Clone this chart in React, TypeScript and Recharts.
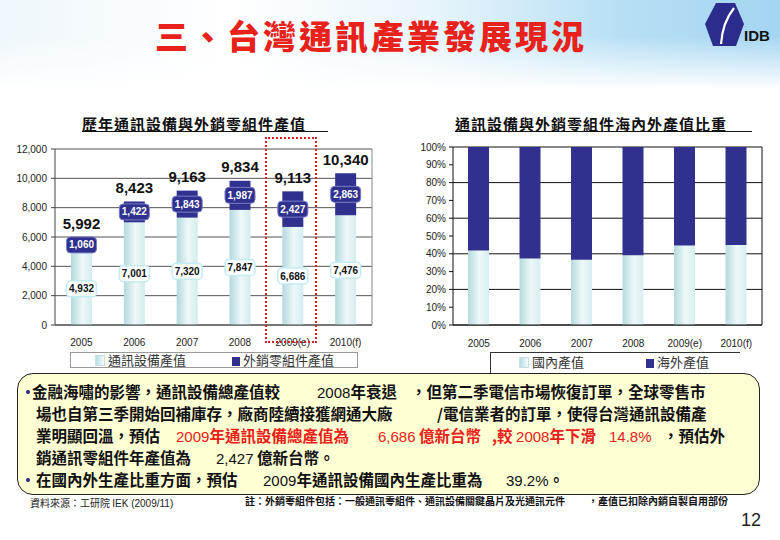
import { BarChart, Bar, XAxis, YAxis, CartesianGrid, LabelList } from 'recharts';

const years = ['2005', '2006', '2007', '2008', '2009(e)', '2010(f)'];
// 億新台幣
const equipment = [4932, 7001, 7320, 7847, 6686, 7476];
const components = [1060, 1422, 1843, 1987, 2427, 2863];
const totals = [5992, 8423, 9163, 9834, 9113, 10340];
const valueTicks = [0, 2000, 4000, 6000, 8000, 10000, 12000];

// %
const domesticShare = [41.8, 37.3, 36.6, 39.2, 44.7, 45.0];
const overseasShare = [58.2, 62.7, 63.4, 60.8, 55.3, 55.0];
const shareTicks = [0, 10, 20, 30, 40, 50, 60, 70, 80, 90, 100];

const CJK = '"Noto Sans CJK TC", "Noto Sans CJK SC", sans-serif';
const LATIN = '"Liberation Sans", Arial, sans-serif';
const NAVY = '#30318f';
const RED = '#e8221a';

const fmt = (v: number) => v.toLocaleString('en-US');

function box(props: any) {
  const vb = props.viewBox ?? props;
  const x = Number(vb.x);
  const h = Number(vb.height);
  const y = Math.min(Number(vb.y), Number(vb.y) + h);
  return { cx: x + Number(vb.width) / 2, top: y, cy: y + Math.abs(h) / 2 };
}

function EquipLabel(props: any) {
  const { cx, cy } = box(props);
  return (
    <g>
      <rect x={cx - 15} y={cy - 8} width={30} height={16} rx={4} fill="#fcffff" stroke="#c4ecf3" strokeWidth={1.5} />
      <text x={cx} y={cy} dy="0.36em" textAnchor="middle" fontSize={10} fontWeight={700} fill="#111" fontFamily={LATIN}>
        {fmt(props.value)}
      </text>
    </g>
  );
}

function CompLabel(props: any) {
  const { cx, cy } = box(props);
  return (
    <g>
      <rect x={cx - 15} y={cy - 8} width={30} height={16} rx={4} fill={NAVY} stroke="#7a7cc4" strokeWidth={1} />
      <text x={cx} y={cy} dy="0.36em" textAnchor="middle" fontSize={10} fontWeight={700} fill="#fff" fontFamily={LATIN}>
        {fmt(props.value)}
      </text>
    </g>
  );
}

function TotalLabel(props: any) {
  const { cx, top } = box(props);
  return (
    <text x={cx} y={top - 14} dy="0.36em" textAnchor="middle" fontSize={15} fontWeight={700} fill="#111" fontFamily={LATIN}>
      {fmt(props.value)}
    </text>
  );
}

const axisTick = { fill: '#222', fontSize: 10, fontFamily: LATIN };

function Seg({ x, y, red, children }: { x: number; y: number; red?: boolean; children: string }) {
  const parts = children.split(/([0-9][0-9.,%]*)/);
  return (
    <div
      style={{
        position: 'absolute', left: x, top: y - 10, height: 20, lineHeight: '20px', whiteSpace: 'nowrap',
        fontSize: 15.5, fontWeight: 700, fontFamily: CJK, color: red ? RED : '#111',
      }}
    >
      {parts.map((p, i) =>
        i % 2 === 1 ? (
          <span key={i} style={{ fontFamily: LATIN, fontWeight: 400, fontSize: 15 }}>{p}</span>
        ) : (
          <span key={i}>{p}</span>
        ),
      )}
    </div>
  );
}

function Bullet({ y }: { y: number }) {
  return <div style={{ position: 'absolute', left: 26, top: y - 1, width: 4, height: 4, borderRadius: 2, background: '#2a2a8a' }} />;
}

function Swatch({ dark }: { dark?: boolean }) {
  return (
    <span
      style={{
        display: 'inline-block', width: 8, height: 9, marginRight: 3, verticalAlign: -1,
        background: dark ? NAVY : 'linear-gradient(to right, #b9dde2, #f4fbfc)',
        border: dark ? 'none' : '1px solid #c9dfe3',
      }}
    />
  );
}

export default function App() {
  const valueData = years.map((year, i) => ({
    year, equipment: equipment[i], components: components[i], total: totals[i],
  }));
  const shareData = years.map((year, i) => ({
    year, domestic: domesticShare[i], overseas: overseasShare[i],
  }));

  return (
    <div style={{ position: 'absolute', left: 0, top: 0, width: 780, height: 540, overflow: 'hidden', background: '#fff', fontFamily: CJK }}>
      {/* header band */}
      <div
        style={{
          position: 'absolute', left: 0, top: 0, width: 780, height: 90,
          background:
            'linear-gradient(to bottom, rgba(255,255,255,0) 40%, #fff 100%), linear-gradient(to right, #eef7fc 0%, #fff 30%, #e8f5fb 55%, #b6dff4 80%, #a4d5f1 100%)',
        }}
      />
      <div
        style={{
          position: 'absolute', left: 155, top: 16, fontSize: 33, letterSpacing: 3, lineHeight: '38px',
          fontWeight: 900, color: RED, whiteSpace: 'nowrap',
        }}
      >
        三、台灣通訊產業發展現況
      </div>
      <svg style={{ position: 'absolute', left: 700, top: 0 }} width={80} height={50}>
        <polygon points="16,3 35,3 44,24 36,46 13,46 5,24" fill="#2c2c8c" />
        <path d="M34,8 C26,18 22,30 21,44" stroke="#fff" strokeWidth={2.2} fill="none" />
        <text x={44} y={41} fontSize={15} fontWeight={700} fontFamily={LATIN} fill="#111">IDB</text>
      </svg>

      {/* left chart */}
      <div style={{ position: 'absolute', left: 82, top: 114, fontSize: 15, letterSpacing: 1, fontWeight: 700, lineHeight: '20px', color: '#111' }}>
        歷年通訊設備與外銷零組件產值
      </div>
      <div style={{ position: 'absolute', left: 82, top: 131, width: 246, height: 1, background: '#111' }} />
      <div style={{ position: 'absolute', left: 0, top: 139 }}>
        <BarChart width={390} height={216} data={valueData} margin={{ top: 10, right: 17, bottom: 0, left: 0 }} barSize={21}>
          <defs>
            <linearGradient id="eqFill" x1="0" y1="0" x2="1" y2="0">
              <stop offset="0%" stopColor="#b3d9de" />
              <stop offset="55%" stopColor="#eef8f9" />
              <stop offset="100%" stopColor="#d3ecef" />
            </linearGradient>
          </defs>
          <CartesianGrid vertical={false} stroke="#555" yAxisId="v" />
          <XAxis dataKey="year" tick={axisTick} tickLine={false} axisLine={{ stroke: '#444' }} tickMargin={8} height={30} />
          <YAxis
            yAxisId="v" domain={[0, 12000]} ticks={valueTicks} tickFormatter={fmt} width={55}
            tick={axisTick} tickSize={4} tickMargin={4} axisLine={{ stroke: '#444' }} tickLine={{ stroke: '#444' }}
          />
          <YAxis yAxisId="edge" orientation="right" width={1} tick={false} tickLine={false} axisLine={{ stroke: '#888' }} />
          <Bar yAxisId="v" dataKey="equipment" stackId="a" fill="url(#eqFill)" isAnimationActive={false}>
            <LabelList dataKey="equipment" content={EquipLabel} />
          </Bar>
          <Bar yAxisId="v" dataKey="components" stackId="a" fill={NAVY} isAnimationActive={false}>
            <LabelList dataKey="components" content={CompLabel} />
            <LabelList dataKey="total" content={TotalLabel} />
          </Bar>
        </BarChart>
      </div>
      <div style={{ position: 'absolute', left: 265, top: 137, width: 52, height: 206, border: '2px dotted #d0202a', boxSizing: 'border-box' }} />
      <div
        style={{
          position: 'absolute', left: 70, top: 352, width: 288, height: 16, border: '1px solid #999', boxSizing: 'border-box',
          fontSize: 13, lineHeight: '14px', color: '#333', background: '#fff', whiteSpace: 'nowrap',
        }}
      >
        <span style={{ position: 'absolute', left: 24, top: 0 }}><Swatch />通訊設備產值</span>
        <span style={{ position: 'absolute', left: 161, top: 0 }}><Swatch dark />外銷零組件產值</span>
      </div>

      {/* right chart */}
      <div style={{ position: 'absolute', left: 455, top: 114, fontSize: 15, letterSpacing: 1, fontWeight: 700, lineHeight: '20px', color: '#111', whiteSpace: 'nowrap' }}>
        通訊設備與外銷零組件海內外產值比重
      </div>
      <div style={{ position: 'absolute', left: 455, top: 131, width: 297, height: 1, background: '#111' }} />
      <div style={{ position: 'absolute', left: 400, top: 137 }}>
        <BarChart width={380} height={218} data={shareData} margin={{ top: 10, right: 17, bottom: 0, left: 0 }} barSize={21}>
          <defs>
            <linearGradient id="domFill" x1="0" y1="0" x2="1" y2="0">
              <stop offset="0%" stopColor="#b6dade" />
              <stop offset="55%" stopColor="#eef8f9" />
              <stop offset="100%" stopColor="#d6eef1" />
            </linearGradient>
          </defs>
          <CartesianGrid vertical={false} stroke="#111" yAxisId="s" />
          <XAxis dataKey="year" tick={axisTick} tickLine={false} axisLine={{ stroke: '#111' }} tickMargin={9} height={30} />
          <YAxis
            yAxisId="s" domain={[0, 100]} ticks={shareTicks} tickFormatter={(v: number) => `${v}%`} width={53}
            tick={axisTick} tickSize={4} tickMargin={3} axisLine={{ stroke: '#111' }} tickLine={{ stroke: '#111' }}
          />
          <YAxis yAxisId="edge" orientation="right" width={1} tick={false} tickLine={false} axisLine={{ stroke: '#111' }} />
          <Bar yAxisId="s" dataKey="domestic" stackId="b" fill="url(#domFill)" isAnimationActive={false} />
          <Bar yAxisId="s" dataKey="overseas" stackId="b" fill={NAVY} isAnimationActive={false} />
        </BarChart>
      </div>
      <div style={{ position: 'absolute', left: 490, top: 352, width: 250, height: 1, background: '#333' }} />
      <div style={{ position: 'absolute', left: 490, top: 352, width: 1, height: 21, background: '#333' }} />
      <div style={{ position: 'absolute', left: 519, top: 355, fontSize: 13, lineHeight: '14px', color: '#333', whiteSpace: 'nowrap' }}>
        <Swatch />國內產值
      </div>
      <div style={{ position: 'absolute', left: 646, top: 355, fontSize: 13, lineHeight: '14px', color: '#333', whiteSpace: 'nowrap' }}>
        <Swatch dark />海外產值
      </div>

      {/* text box */}
      <div
        style={{
          position: 'absolute', left: 17, top: 373, width: 743, height: 122, boxSizing: 'border-box',
          border: '1px solid #222', borderRadius: 16, background: '#ffffd4',
        }}
      />
      <Bullet y={391} />
      <Seg x={32} y={391}>金融海嘯的影響，通訊設備總產值較</Seg>
      <Seg x={317} y={391}>2008年衰退</Seg>
      <Seg x={411} y={391}>，但第二季電信市場恢復訂單，全球零售市</Seg>
      <Seg x={36} y={413}>場也自第三季開始回補庫存，廠商陸續接獲網通大廠</Seg>
      <Seg x={437} y={413}>/電信業者的訂單，使得台灣通訊設備產</Seg>
      <Seg x={36} y={435}>業明顯回溫，預估</Seg>
      <Seg x={176} y={435} red>2009年通訊設備總產值為</Seg>
      <Seg x={378} y={435} red>6,686 億新台幣</Seg>
      <Seg x={492} y={435} red>,較 2008年下滑</Seg>
      <Seg x={609} y={435} red>14.8%</Seg>
      <Seg x={663} y={435}>，預估外</Seg>
      <Seg x={36} y={457}>銷通訊零組件年產值為</Seg>
      <Seg x={216} y={457}>2,427 億新台幣。</Seg>
      <Bullet y={479} />
      <Seg x={36} y={479}>在國內外生產比重方面，預估</Seg>
      <Seg x={263} y={479}>2009年通訊設備國內生產比重為</Seg>
      <Seg x={506} y={479}>39.2%。</Seg>

      {/* footer */}
      <div style={{ position: 'absolute', left: 30, top: 496, fontSize: 10, lineHeight: '14px', color: '#222', whiteSpace: 'nowrap' }}>
        資料來源：工研院 <span style={{ fontFamily: LATIN }}>IEK (2009/11)</span>
      </div>
      <div style={{ position: 'absolute', left: 245, top: 494, fontSize: 10, fontWeight: 700, lineHeight: '14px', color: '#111', whiteSpace: 'nowrap' }}>
        註：外銷零組件包括：一般通訊零組件、通訊設備關鍵晶片及光通訊元件
      </div>
      <div style={{ position: 'absolute', left: 588, top: 494, fontSize: 10, fontWeight: 700, lineHeight: '14px', color: '#111', whiteSpace: 'nowrap' }}>
        ，產值已扣除內銷自製自用部份
      </div>
      <div style={{ position: 'absolute', left: 741, top: 510, fontSize: 18, fontFamily: LATIN, color: '#222' }}>12</div>
    </div>
  );
}
